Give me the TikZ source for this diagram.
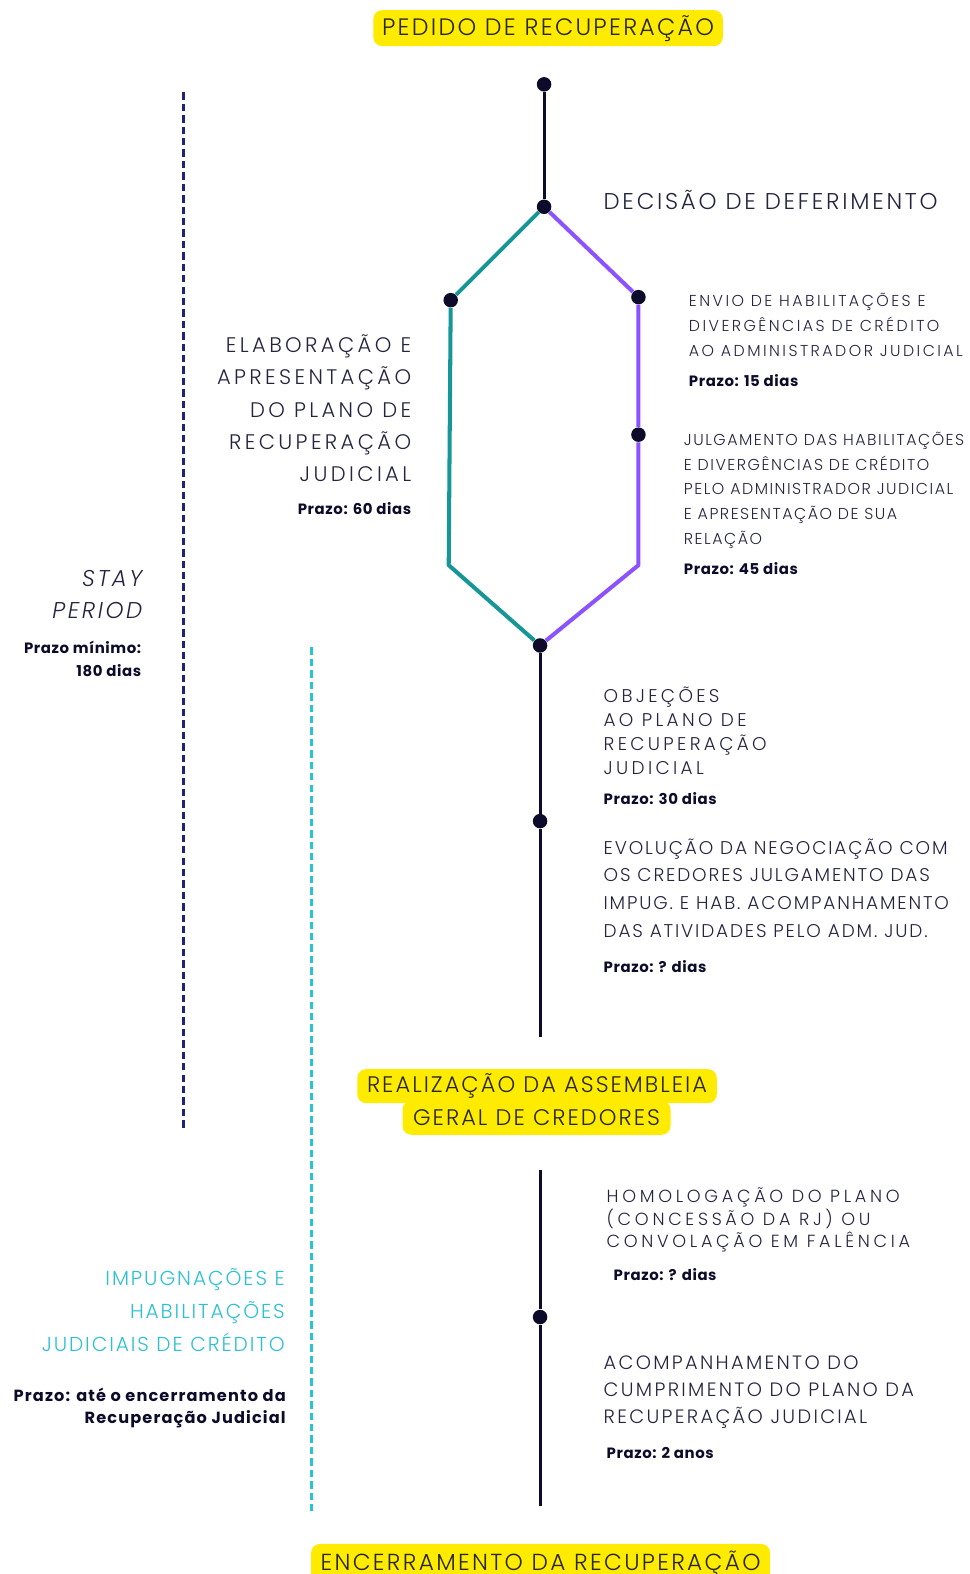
\documentclass[tikz,border=0pt]{standalone}
\usepackage{fontspec}
\setmainfont{Poppins}[UprightFont=* Light, ItalicFont=* Light Italic, BoldFont=* Bold]
\usepackage{xcolor}

\definecolor{ink}{RGB}{36,36,64}
\definecolor{hilite}{RGB}{255,235,0}
\definecolor{tealpath}{RGB}{22,150,150}
\definecolor{violetpath}{RGB}{140,82,255}
\definecolor{navydash}{RGB}{32,36,120}
\definecolor{cyandash}{RGB}{40,196,214}
\definecolor{cyantext}{RGB}{45,192,212}
\definecolor{dotink}{RGB}{12,12,42}
\newcommand{\trk}[1]{\addfontfeature{LetterSpace=#1}}

\begin{document}
\begin{tikzpicture}[
  x=0.020083cm, y=-0.020077cm,
  milestone/.style={fill=hilite, rounded corners=5pt, inner sep=0pt,
                    minimum height=0.72cm, text=black!85,
                    font=\fontsize{13.5}{16}\selectfont\trk{9.5}},
  stage/.style={inner sep=0pt, text=ink, align=left},
  deadline/.style={inner sep=0pt, text=dotink,
                   font=\bfseries\fontsize{8.5}{13}\selectfont\trk{4}},
  knot/.style={circle, fill=dotink, inner sep=0pt, minimum size=0.29cm},
  trunk/.style={draw=dotink, line width=1.7pt},
  leftpath/.style={draw=tealpath, line width=2.3pt, line join=round},
  rightpath/.style={draw=violetpath, line width=2.3pt, line join=round},
  stay/.style={draw=navydash, line width=1.7pt, dash pattern=on 4.2pt off 2.3pt},
  claims/.style={draw=cyandash, line width=1.7pt, dash pattern=on 4.2pt off 2.3pt}
]
  \clip (0,0) rectangle (966,1568);

  \node[milestone, minimum width=6.99cm] (pedido) at (546,28) {PEDIDO DE RECUPERAÇÃO};

  \node[knot] (k0) at (542,84) {};
  \node[knot] (k1) at (542,206) {};
  \node[knot] (kteal) at (449,299) {};
  \node[knot] (kviol1) at (636,296) {};
  \node[knot] (kviol2) at (636,433) {};
  \node[knot] (kjoin) at (538,643) {};
  \node[knot] (kobj) at (538,818) {};
  \node[knot] (khom) at (538,1312) {};
  \coordinate (tealbend) at (447,563);
  \coordinate (violbend) at (636,563);
  \coordinate (trunkend) at (538,1033);
  \coordinate (trunkstart) at (538,1166);
  \coordinate (trunkfoot) at (538,1500);
  \coordinate (staytop) at (183,92);
  \coordinate (staybot) at (183,1127);
  \coordinate (claimtop) at (310,645);
  \coordinate (claimbot) at (310,1508);

  \draw[trunk] (k0) -- (k1);
  \draw[leftpath] (k1) -- (kteal) -- (tealbend) -- (kjoin);
  \draw[rightpath] (k1) -- (kviol1) -- (kviol2) -- (violbend) -- (kjoin);
  \draw[trunk] (kjoin) -- (kobj) -- (trunkend);
  \draw[trunk] (trunkstart) -- (khom) -- (trunkfoot);
  \draw[stay] (staytop) -- (staybot);
  \draw[claims] (claimtop) -- (claimbot);

  \node[stage, anchor=west, font=\fontsize{13}{16}\selectfont\trk{12}] (deferimento) at (601,199) {DECISÃO DE DEFERIMENTO};

  \node[stage, anchor=north west, font=\fontsize{9}{14.2}\selectfont\trk{15.5}] (envio) at (686,292)
    {ENVIO DE HABILITAÇÕES E\\DIVERGÊNCIAS DE CRÉDITO\\AO ADMINISTRADOR JUDICIAL};
  \node[deadline, anchor=west] (envioprazo) at (686,379) {Prazo: 15 dias};

  \node[stage, anchor=north west, font=\fontsize{9}{14.1}\selectfont\trk{9.5}] (julgamento) at (681,430)
    {JULGAMENTO DAS HABILITAÇÕES\\E DIVERGÊNCIAS DE CRÉDITO\\PELO ADMINISTRADOR JUDICIAL\\E APRESENTAÇÃO DE SUA\\RELAÇÃO};
  \node[deadline, anchor=west] (julgprazo) at (681,566) {Prazo: 45 dias};

  \node[stage, align=right, anchor=north east, font=\fontsize{12}{18.4}\selectfont\trk{16}] (plano) at (410,333)
    {ELABORAÇÃO E\\APRESENTAÇÃO\\DO PLANO DE\\RECUPERAÇÃO\\JUDICIAL};
  \node[deadline, anchor=east] (planoprazo) at (410,507) {Prazo: 60 dias};

  \node[stage, align=right, anchor=north east, font=\itshape\fontsize{13}{18.2}\selectfont\trk{11}] (stay) at (142,568)
    {STAY\\PERIOD};
  \node[deadline, align=right, anchor=north east] (stayprazo) at (141,638.5) {Prazo mínimo:\\180 dias};

  \node[stage, anchor=north west, font=\fontsize{10.5}{13.7}\selectfont\trk{18}] (objecoes) at (601,684)
    {OBJEÇÕES\\AO PLANO DE\\RECUPERAÇÃO\\JUDICIAL};
  \node[deadline, anchor=west] (objprazo) at (601,796) {Prazo: 30 dias};

  \node[stage, anchor=north west, font=\fontsize{10.5}{15.8}\selectfont\trk{10}] (negociacao) at (601,835)
    {EVOLUÇÃO DA NEGOCIAÇÃO COM\\OS CREDORES JULGAMENTO DAS\\IMPUG. E HAB. ACOMPANHAMENTO\\DAS ATIVIDADES PELO ADM. JUD.};
  \node[deadline, anchor=west] (negprazo) at (601,963) {Prazo: ? dias};

  \node[milestone, minimum width=5.36cm, minimum height=0.68cm, font=\fontsize{12.8}{15}\selectfont\trk{9}] (credores) at (534.5,1113.5) {GERAL DE CREDORES};
  \node[milestone, minimum width=7.19cm, minimum height=0.68cm, font=\fontsize{12.8}{15}\selectfont\trk{9}] (assembleia) at (535,1082) {REALIZAÇÃO DA ASSEMBLEIA};

  \node[stage, anchor=north west, font=\fontsize{10}{12.8}\selectfont\trk{21}] (homologacao) at (604,1183)
    {HOMOLOGAÇÃO DO PLANO\\(CONCESSÃO DA RJ) OU\\CONVOLAÇÃO EM FALÊNCIA};
  \node[deadline, anchor=west] (homprazo) at (611,1270) {Prazo: ? dias};

  \node[stage, anchor=north west, font=\fontsize{11}{15.4}\selectfont\trk{12}] (cumprimento) at (601,1350)
    {ACOMPANHAMENTO DO\\CUMPRIMENTO DO PLANO DA\\RECUPERAÇÃO JUDICIAL};
  \node[deadline, anchor=west] (cumprazo) at (604,1447) {Prazo: 2 anos};

  \node[stage, align=right, anchor=north east, text=cyantext, font=\fontsize{11.5}{18.8}\selectfont\trk{9.5}] (impugnacoes) at (284,1263)
    {IMPUGNAÇÕES E\\HABILITAÇÕES\\JUDICIAIS DE CRÉDITO};
  \node[deadline, align=right, anchor=north east, font=\bfseries\fontsize{9.2}{12.5}\selectfont\trk{7}] (impprazo) at (285,1382)
    {Prazo: até o encerramento da\\Recuperação Judicial};

  \node[milestone, minimum width=9.18cm, minimum height=0.8cm, font=\fontsize{13.2}{16}\selectfont\trk{10}] (encerramento) at (538.5,1558) {ENCERRAMENTO DA RECUPERAÇÃO};
\end{tikzpicture}
\end{document}
